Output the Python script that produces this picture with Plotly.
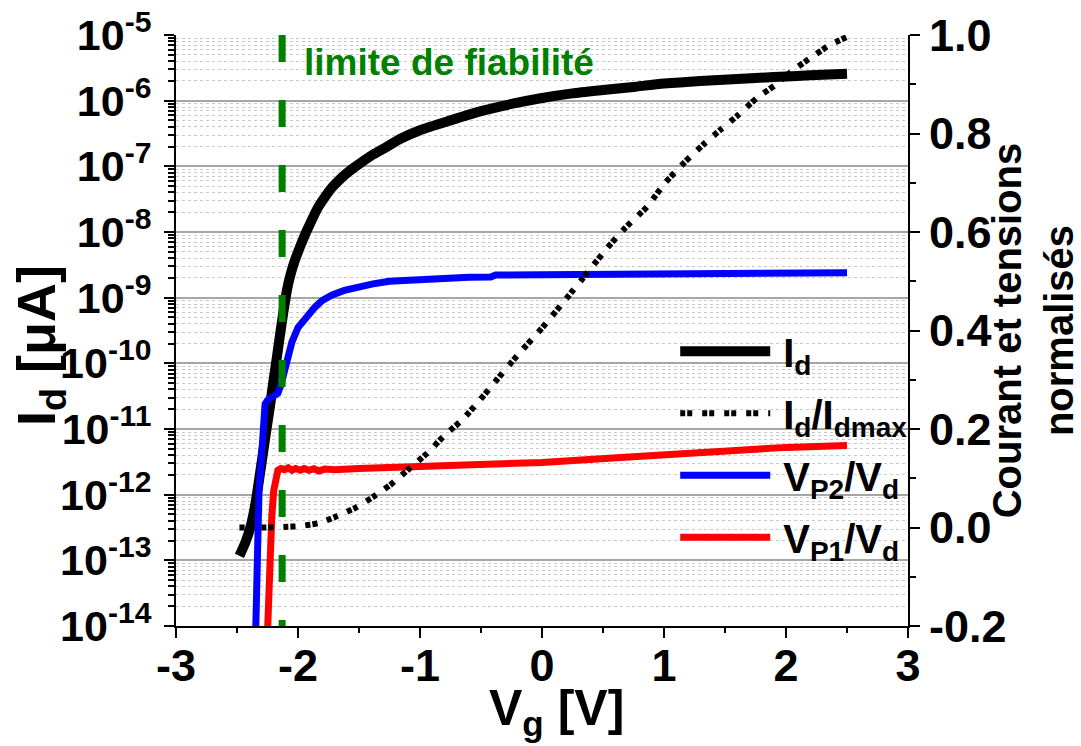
import plotly.graph_objects as go

# ---------------- data ----------------
VG_ID = [-2.48, -2.43, -2.39, -2.35, -2.31, -2.27, -2.23, -2.20, -2.175, -2.15, -2.12, -2.09,
         -2.06, -2.025, -1.98, -1.94, -1.89, -1.84, -1.78, -1.72, -1.64, -1.57, -1.48, -1.385,
         -1.27, -1.16, -1.0, -0.75, -0.5, -0.25, 0.0, 0.25, 0.5, 0.75, 1.0, 1.3, 1.6, 1.9, 2.2, 2.5]
ID = [1.17e-13, 1.9e-13, 3.2e-13, 7.1e-13, 2.2e-12, 7.1e-12, 2.2e-11, 5.62e-11, 1.17e-10,
      2.51e-10, 6.03e-10, 1.32e-9, 2.29e-9, 3.72e-9, 6.17e-9, 9.33e-9, 1.48e-8, 2.29e-8, 3.39e-8,
      4.79e-8, 6.76e-8, 8.71e-8, 1.15e-7, 1.51e-7, 2.0e-7, 2.63e-7, 3.55e-7, 5.01e-7, 6.92e-7,
      8.91e-7, 1.10e-6, 1.29e-6, 1.45e-6, 1.62e-6, 1.82e-6, 2.0e-6, 2.14e-6, 2.29e-6, 2.43e-6,
      2.57e-6]

VG_NORM = [-2.48, -2.3, -2.12, -1.98, -1.83, -1.70, -1.53, -1.385, -1.246, -1.10, -0.94, -0.795,
           -0.656, -0.508, -0.37, -0.2, 0.0, 0.2, 0.38, 0.533, 0.68, 0.86, 1.01, 1.17, 1.32, 1.46,
           1.61, 1.76, 1.91, 2.06, 2.21, 2.36, 2.5]
ID_NORM = [0.0, 0.0, 0.001, 0.003, 0.009, 0.021, 0.04, 0.062, 0.086, 0.117, 0.151, 0.188, 0.218,
           0.259, 0.30, 0.35, 0.405, 0.465, 0.52, 0.567, 0.608, 0.651, 0.70, 0.742, 0.777, 0.807,
           0.838, 0.872, 0.898, 0.929, 0.955, 0.98, 0.996]

VG_P2 = [-2.352, -2.335, -2.32, -2.30, -2.285, -2.27, -2.25, -2.22, -2.19, -2.165, -2.14, -2.12,
         -2.09, -2.05, -2.0, -1.93, -1.86, -1.80, -1.72, -1.62, -1.5, -1.385, -1.25, -1.1, -0.85,
         -0.6, -0.42, -0.38, 0.0, 0.5, 1.0, 1.5, 2.0, 2.5]
VP2 = [3.2e-15, 2.5e-13, 1.1e-12, 3.5e-12, 7.9e-12, 2.4e-11, 2.75e-11, 2.95e-11, 3.2e-11, 3.5e-11,
       4.7e-11, 6.3e-11, 1.12e-10, 2.1e-10, 3.5e-10, 5.2e-10, 7.2e-10, 9.1e-10, 1.1e-9, 1.29e-9,
       1.48e-9, 1.62e-9, 1.78e-9, 1.86e-9, 1.97e-9, 2.04e-9, 2.07e-9, 2.21e-9, 2.24e-9, 2.29e-9,
       2.32e-9, 2.34e-9, 2.37e-9, 2.4e-9]

VG_P1 = [-2.258, -2.235, -2.215, -2.20, -2.185, -2.165, -2.14, -2.11, -2.08, -2.05, -2.02, -1.98,
         -1.95, -1.91, -1.87, -1.83, -1.78, -1.7, -1.5, -1.0, -0.34, 0.0, 0.58, 1.0, 1.27, 1.68,
         1.7, 2.0, 2.5]
VP1 = [3.2e-15, 1.0e-13, 4.5e-13, 1.12e-12, 1.9e-12, 2.35e-12, 2.5e-12, 2.4e-12, 2.57e-12,
       2.35e-12, 2.5e-12, 2.35e-12, 2.5e-12, 2.35e-12, 2.48e-12, 2.3e-12, 2.45e-12, 2.4e-12,
       2.5e-12, 2.63e-12, 2.82e-12, 3.09e-12, 3.63e-12, 4.07e-12, 4.47e-12, 4.9e-12, 5.13e-12,
       5.25e-12, 5.62e-12]

LIMIT_VG = -2.13

X_TICKS = [-3, -2, -1, 0, 1, 2, 3]
X_LABELS = ["-3", "-2", "-1", "0", "1", "2", "3"]
DECADES = [-14, -13, -12, -11, -10, -9, -8, -7, -6, -5]
Y_LABELS = ["10<sup>-14</sup>", "10<sup>-13</sup>", "10<sup>-12</sup>", "10<sup>-11</sup>",
            "10<sup>-10</sup>", "10<sup>-9</sup>", "10<sup>-8</sup>", "10<sup>-7</sup>",
            "10<sup>-6</sup>", "10<sup>-5</sup>"]
Y2_TICKS = [-0.2, 0.0, 0.2, 0.4, 0.6, 0.8, 1.0]
Y2_LABELS = ["-0.2", "0.0", "0.2", "0.4", "0.6", "0.8", "1.0"]

# ---------------- figure ----------------
FONT = "Arial, 'Liberation Sans', sans-serif"
BOLD = dict(family=FONT, color="black", weight="bold")
SP = "\u2009"

fig = go.Figure()
fig.add_trace(go.Scatter(x=VG_ID, y=ID, mode="lines", name=SP + "I<sub>d</sub>", legendgroup="a",
                         line=dict(color="black", width=10, shape="spline", smoothing=0.6),
                         xaxis="x", yaxis="y"))
fig.add_trace(go.Scatter(x=VG_NORM, y=ID_NORM, mode="lines", legendgroup="b",
                         name=SP + "I<sub>d</sub>/I<sub>dmax</sub>",
                         line=dict(color="black", width=6, dash="5px,2px,5px,10px",
                                   shape="spline", smoothing=0.5),
                         xaxis="x", yaxis="y2"))
fig.add_trace(go.Scatter(x=VG_P2, y=VP2, mode="lines", legendgroup="c",
                         name=SP + "V<sub>P2</sub>/V<sub>d</sub>",
                         line=dict(color="#0000ff", width=7), xaxis="x", yaxis="y"))
fig.add_trace(go.Scatter(x=VG_P1, y=VP1, mode="lines", legendgroup="d",
                         name=SP + "V<sub>P1</sub>/V<sub>d</sub>",
                         line=dict(color="#ff0000", width=7), xaxis="x", yaxis="y"))

minor_x = [v + 0.5 for v in X_TICKS[:-1]]
minor_y = [k * 10.0 ** e for e in DECADES[:-1] for k in range(2, 10)]
minor_y2 = [round(v + 0.1, 1) for v in Y2_TICKS[:-1]]

fig.update_layout(
    width=1081, height=746,
    margin=dict(l=176, r=173, t=35, b=120),
    paper_bgcolor="white", plot_bgcolor="white",
    font=dict(family=FONT, color="black"),
    showlegend=True,
    legend=dict(x=0.682, y=0.52, xanchor="left", yanchor="top",
                bgcolor="rgba(0,0,0,0)", font=dict(size=40, **BOLD),
                itemwidth=90, tracegroupgap=7),
    xaxis=dict(range=[-3, 3], tickmode="array", tickvals=X_TICKS, ticktext=X_LABELS,
               ticks="outside", ticklen=10, tickwidth=2, tickcolor="black",
               showline=True, linecolor="black", linewidth=2, showgrid=False, zeroline=False,
               tickfont=dict(size=45, **BOLD), ticklabelstandoff=-11, automargin=False,
               minor=dict(tickmode="array", tickvals=minor_x, ticks="outside", ticklen=5,
                          tickwidth=2, tickcolor="black", showgrid=False)),
    xaxis2=dict(range=[-3, 3], overlaying="x", side="top", anchor="y",
                tickmode="array", tickvals=X_TICKS + minor_x, ticks="inside", ticklen=9,
                tickwidth=2, tickcolor="black", showticklabels=False, automargin=False,
                showline=True, linecolor="black", linewidth=2, showgrid=False, zeroline=False),
    yaxis=dict(type="log", range=[-14, -5], tickmode="array",
               tickvals=[10.0 ** e for e in DECADES], ticktext=Y_LABELS,
               ticks="outside", ticklen=10, tickwidth=2, tickcolor="black",
               showline=True, linecolor="black", linewidth=2, zeroline=False,
               showgrid=True, gridcolor="#a6a6a6", gridwidth=1.5,
               tickfont=dict(size=43, **BOLD), ticklabelstandoff=4, automargin=False,
               minor=dict(tickmode="array", tickvals=minor_y, ticks="outside", ticklen=6,
                          tickwidth=1.5, tickcolor="black", showgrid=True,
                          gridcolor="#c8c8c8", griddash="dot", gridwidth=1)),
    yaxis2=dict(range=[-0.2, 1.0], overlaying="y", side="right", anchor="x",
                tickmode="array", tickvals=Y2_TICKS, ticktext=Y2_LABELS,
                ticks="outside", ticklen=10, tickwidth=2, tickcolor="black",
                showline=True, linecolor="black", linewidth=2, showgrid=False, zeroline=False,
                tickfont=dict(size=45, **BOLD), automargin=False,
                title=dict(text="Courant et tensions<br>normalisés", font=dict(size=40, **BOLD),
                           standoff=2),
                minor=dict(tickmode="array", tickvals=minor_y2, ticks="outside", ticklen=6,
                           tickwidth=2, tickcolor="black", showgrid=False)),
)

# reliability limit
fig.add_shape(type="line", xref="x", yref="paper", x0=LIMIT_VG, x1=LIMIT_VG, y0=1, y1=0,
              line=dict(color="#008000", width=7, dash="27px,38px"), layer="above")
fig.add_annotation(text="limite de fiabilité", xref="x", yref="paper", x=-1.97, y=0.953,
                   xanchor="left", yanchor="middle", showarrow=False,
                   font=dict(size=37, family=FONT, color="#008000", weight="bold"))

# axis titles
fig.add_annotation(text="V<sub>g</sub> [V]", xref="paper", yref="paper", x=0.52, y=-0.145,
                   xanchor="center", yanchor="middle", showarrow=False,
                   font=dict(size=50, **BOLD))
fig.add_annotation(text="I<sub>d</sub> [μA]", xref="paper", yref="paper", x=-0.186, y=0.475,
                   xanchor="center", yanchor="middle", showarrow=False, textangle=-90,
                   font=dict(size=54, **BOLD))

fig.write_html("out.html", config={"displayModeBar": False},
               post_script="document.body.style.margin='0';")
